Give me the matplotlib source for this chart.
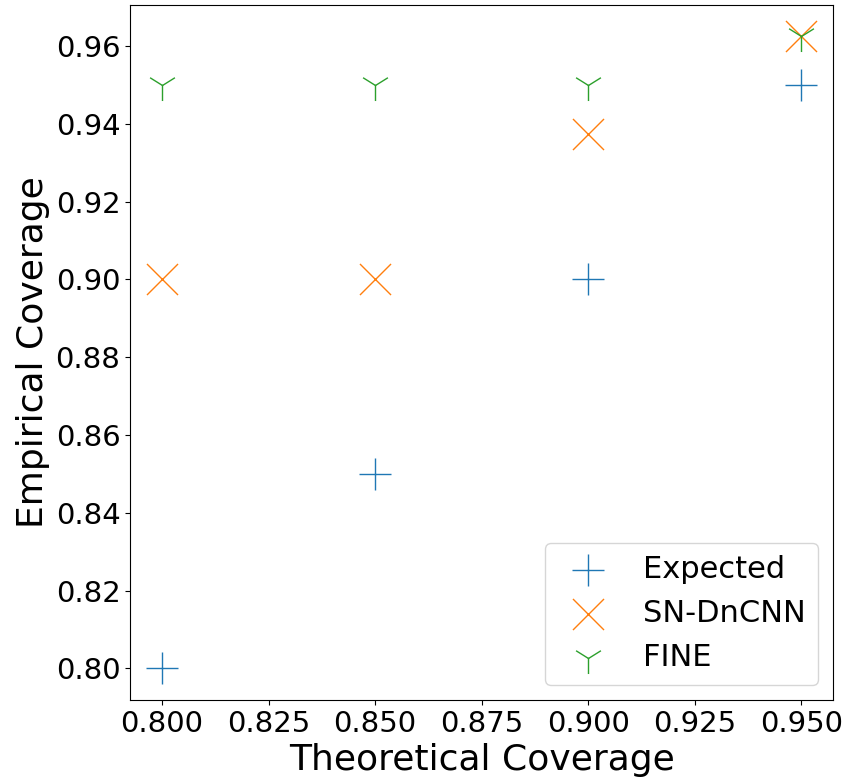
import matplotlib

matplotlib.use("Agg")
import matplotlib.pyplot as plt  # noqa: E402

theoretical = [0.80, 0.85, 0.90, 0.95]
expected = [0.80, 0.85, 0.90, 0.95]
sn_dncnn = [0.90, 0.90, 0.9375, 0.9625]
fine = [0.95, 0.95, 0.95, 0.9625]


def main() -> None:
    fig = plt.figure(figsize=(8.45, 7.82), dpi=100)
    ax = fig.add_axes([0.154, 0.105, 0.832, 0.889])
    ax.scatter(theoretical, expected, marker="+", s=500, linewidths=1, label="Expected")
    ax.scatter(theoretical, sn_dncnn, marker="x", s=500, linewidths=1, label="SN-DnCNN")
    ax.scatter(theoretical, fine, marker="1", s=500, linewidths=1, label="FINE")
    ax.set_xlabel("Theoretical Coverage", fontsize=26)
    ax.set_ylabel("Empirical Coverage", fontsize=26)
    ax.tick_params(labelsize=21)
    ax.legend(loc="lower right", fontsize=22)
    fig.savefig("out.png", dpi=100)
    plt.close(fig)


if __name__ == "__main__":
    main()
